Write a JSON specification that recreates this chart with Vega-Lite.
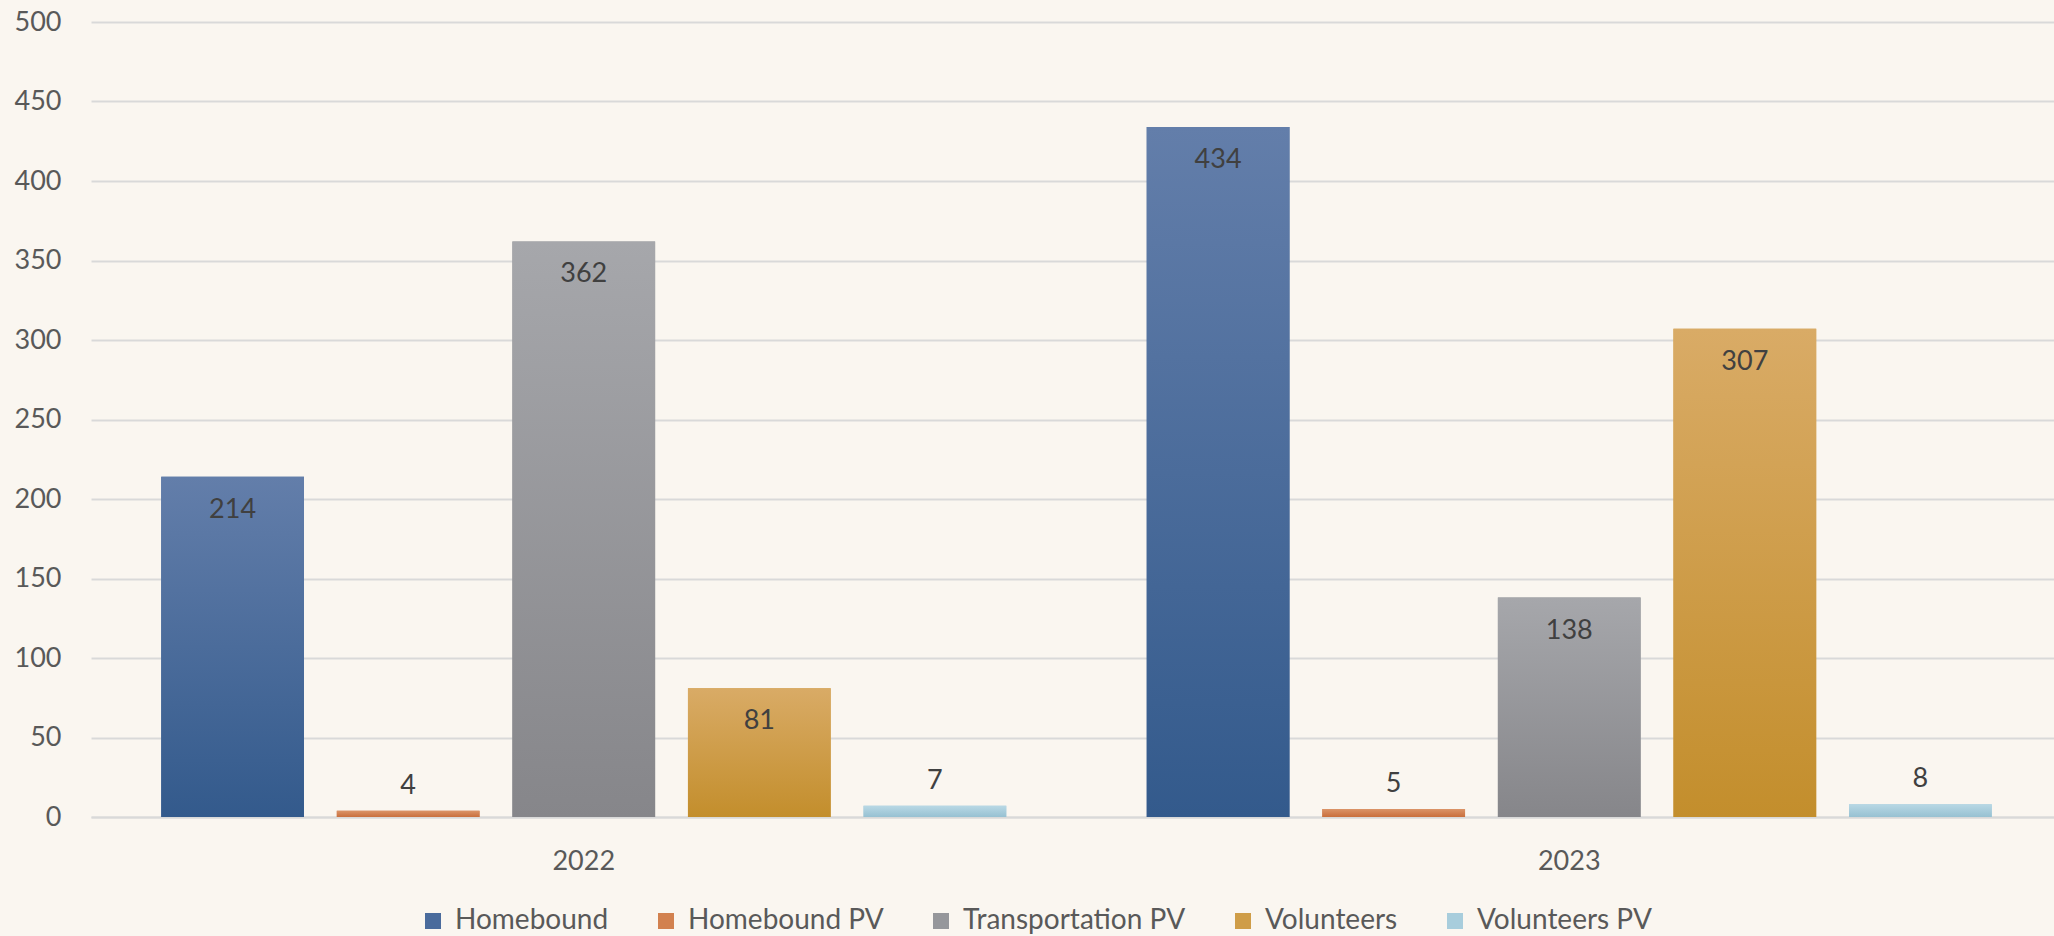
{
  "$schema": "https://vega.github.io/schema/vega-lite/v6.json",
  "autosize": "none",
  "width": 1971,
  "height": 795,
  "padding": {"left": 91, "top": 22, "right": 0, "bottom": 119},
  "background": "#faf6f0",
  "config": {
    "view": {"stroke": null},
    "font": "Lato",
    "axis": {"labelFont": "Lato", "labelFontSize": 27, "labelColor": "#595959", "ticks": false, "title": null}
  },
  "data": {
    "values": [
      {"year": "2022", "series": "Homebound", "value": 214},
      {"year": "2022", "series": "Homebound PV", "value": 4},
      {"year": "2022", "series": "Transportation PV", "value": 362},
      {"year": "2022", "series": "Volunteers", "value": 81},
      {"year": "2022", "series": "Volunteers PV", "value": 7},
      {"year": "2023", "series": "Homebound", "value": 434},
      {"year": "2023", "series": "Homebound PV", "value": 5},
      {"year": "2023", "series": "Transportation PV", "value": 138},
      {"year": "2023", "series": "Volunteers", "value": 307},
      {"year": "2023", "series": "Volunteers PV", "value": 8}
    ]
  },
  "encoding": {
    "x": {
      "field": "year", "type": "nominal",
      "scale": {"paddingInner": 0, "paddingOuter": 0},
      "axis": {"labelAngle": 0, "labelPadding": 31, "domain": true, "domainColor": "#d9d9d9", "domainWidth": 2, "grid": false}
    },
    "xOffset": {
      "field": "series", "type": "nominal",
      "scale": {"domain": ["Homebound", "Homebound PV", "Transportation PV", "Volunteers", "Volunteers PV"], "paddingInner": 0.187, "paddingOuter": 0.4}
    },
    "y": {
      "field": "value", "type": "quantitative",
      "scale": {"domain": [0, 500], "nice": false},
      "axis": {"values": [0, 50, 100, 150, 200, 250, 300, 350, 400, 450, 500], "domain": false, "grid": true, "gridColor": "#d9d9d9", "gridWidth": 2, "labelPadding": 30}
    }
  },
  "layer": [
    {
      "mark": {"type": "bar"},
      "encoding": {
        "color": {
          "field": "series", "type": "nominal",
          "scale": {
            "domain": ["Homebound", "Homebound PV", "Transportation PV", "Volunteers", "Volunteers PV"],
            "range": ["#4a6b9c", "#d2814f", "#96979b", "#cf9d48", "#a8cddc"]
          },
          "legend": {
            "orient": "none", "direction": "horizontal", "title": null,
            "legendX": 328, "legendY": 885,
            "symbolType": "square", "symbolSize": 256, "symbolStrokeWidth": 0,
            "labelFont": "Lato", "labelFontSize": 28, "labelColor": "#595959", "labelLimit": 0,
            "labelOffset": 8, "columnPadding": 43
          }
        }
      }
    },
    {
      "transform": [{"filter": "datum.series === 'Homebound'"}],
      "mark": {"type": "bar", "color": {"gradient": "linear", "x1": 0, "y1": 0, "x2": 0, "y2": 1, "stops": [{"offset": 0, "color": "#637eaa"}, {"offset": 1, "color": "#335a8c"}]}}
    },
    {
      "transform": [{"filter": "datum.series === 'Homebound PV'"}],
      "mark": {"type": "bar", "color": {"gradient": "linear", "x1": 0, "y1": 0, "x2": 0, "y2": 1, "stops": [{"offset": 0, "color": "#db9468"}, {"offset": 1, "color": "#c96f3d"}]}}
    },
    {
      "transform": [{"filter": "datum.series === 'Transportation PV'"}],
      "mark": {"type": "bar", "color": {"gradient": "linear", "x1": 0, "y1": 0, "x2": 0, "y2": 1, "stops": [{"offset": 0, "color": "#a6a7ab"}, {"offset": 1, "color": "#86868a"}]}}
    },
    {
      "transform": [{"filter": "datum.series === 'Volunteers'"}],
      "mark": {"type": "bar", "color": {"gradient": "linear", "x1": 0, "y1": 0, "x2": 0, "y2": 1, "stops": [{"offset": 0, "color": "#d9ab66"}, {"offset": 1, "color": "#c38e2c"}]}}
    },
    {
      "transform": [{"filter": "datum.series === 'Volunteers PV'"}],
      "mark": {"type": "bar", "color": {"gradient": "linear", "x1": 0, "y1": 0, "x2": 0, "y2": 1, "stops": [{"offset": 0, "color": "#b8d8e5"}, {"offset": 1, "color": "#97c1d2"}]}}
    },
    {
      "transform": [{"filter": "datum.value >= 50"}],
      "mark": {"type": "text", "baseline": "middle", "dy": 33, "fontSize": 27, "color": "#404040", "font": "Lato"},
      "encoding": {"text": {"field": "value", "type": "quantitative"}}
    },
    {
      "transform": [{"filter": "datum.value < 50"}],
      "mark": {"type": "text", "baseline": "middle", "dy": -25, "fontSize": 27, "color": "#404040", "font": "Lato"},
      "encoding": {"text": {"field": "value", "type": "quantitative"}}
    }
  ]
}
